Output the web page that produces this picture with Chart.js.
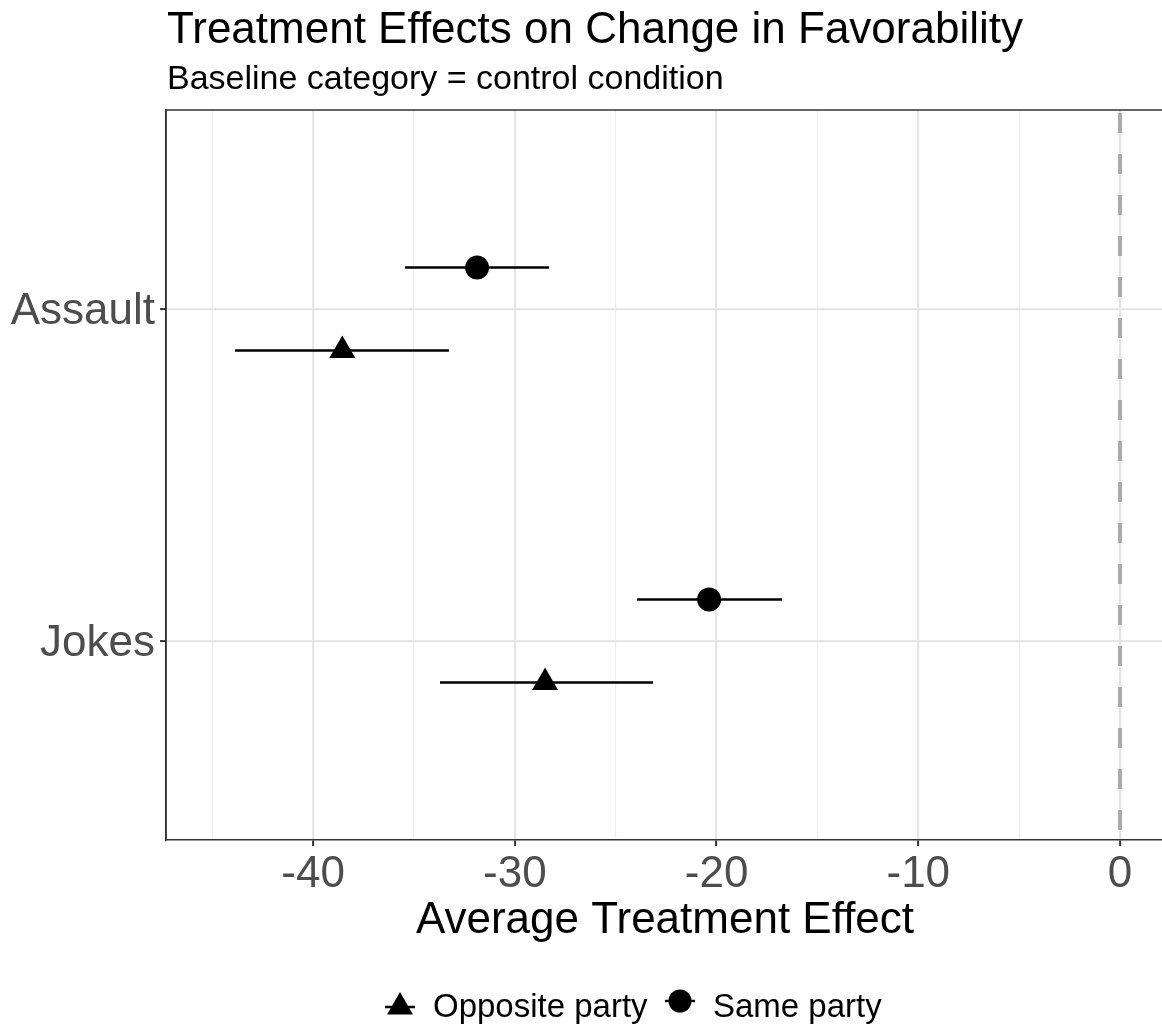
<!DOCTYPE html>
<html>
<head>
<meta charset="utf-8">
<script src="https://cdn.jsdelivr.net/npm/chart.js@4.4.0/dist/chart.umd.min.js"></script>
<style>
  html, body { margin: 0; padding: 0; background: #fff; overflow: hidden; }
  #wrap { width: 1162px; height: 1026px; overflow: hidden; }
</style>
</head>
<body>
<div id="wrap"><canvas id="chart" width="1177" height="1026"></canvas></div>
<script>
'use strict';

// Data.
const categories = ['Assault', 'Jokes'];
const categoryPos = [2, 1];
const seriesNames = ['Opposite party', 'Same party'];

const sameEst = [-31.87, -20.37];
const sameLow = [-35.44, -23.94];
const sameHigh = [-28.30, -16.75];

const oppEst = [-38.55, -28.50];
const oppLow = [-43.87, -33.71];
const oppHigh = [-33.26, -23.15];

const xTicks = [-45, -40, -35, -30, -25, -20, -15, -10, -5, 0];
const dodge = 0.125;

const FONT = '"Liberation Sans", Arial, Helvetica, sans-serif';

// Build the datasets.
let datasets = [];

datasets.push({
  type: 'scatter',
  label: 'Same party',
  data: categoryPos.map((p, i) => ({ x: sameEst[i], y: p + dodge })),
  pointStyle: 'circle',
  pointRadius: 12,
  backgroundColor: '#000',
  borderColor: '#000',
  borderWidth: 0,
  order: 1
});

datasets.push({
  type: 'scatter',
  label: 'Opposite party',
  data: categoryPos.map((p, i) => ({ x: oppEst[i], y: p - dodge })),
  pointStyle: 'triangle',
  pointRadius: 15,
  backgroundColor: '#000',
  borderColor: '#000',
  borderWidth: 0,
  order: 1
});

// Error bars, one small line per interval.
for (let i = 0; i < categoryPos.length; i++) {
  datasets.push({
    type: 'line',
    data: [{ x: sameLow[i], y: categoryPos[i] + dodge }, { x: sameHigh[i], y: categoryPos[i] + dodge }],
    borderColor: '#000',
    borderWidth: 2.5,
    pointRadius: 0,
    order: 2
  });
  datasets.push({
    type: 'line',
    data: [{ x: oppLow[i], y: categoryPos[i] - dodge }, { x: oppHigh[i], y: categoryPos[i] - dodge }],
    borderColor: '#000',
    borderWidth: 2.5,
    pointRadius: 0,
    order: 2
  });
}

// Dashed reference line at zero.
datasets.push({
  type: 'line',
  data: [{ x: 0, y: 2.6 }, { x: 0, y: 0.4 }],
  borderColor: '#aaaaaa',
  borderWidth: 4,
  borderDash: [20, 21],
  borderDashOffset: -3,
  pointRadius: 0,
  order: 3
});

// Titles, axis title, panel border and legend drawn on the canvas.
const decorations = {
  id: 'decorations',
  afterDraw(chart) {
    const ctx = chart.ctx;
    const area = chart.chartArea;
    ctx.save();

    // panel border
    ctx.strokeStyle = '#333333';
    ctx.lineWidth = 1.5;
    ctx.beginPath();
    ctx.moveTo(area.left, area.bottom);
    ctx.lineTo(area.left, area.top);
    ctx.lineTo(area.right + 2, area.top);
    ctx.stroke();

    ctx.fillStyle = '#000';
    ctx.textAlign = 'left';
    ctx.textBaseline = 'alphabetic';
    ctx.font = '44px ' + FONT;
    ctx.fillText('Treatment Effects on Change in Favorability', 167, 43);
    ctx.font = '34px ' + FONT;
    ctx.fillText('Baseline category = control condition', 167, 89);

    // x axis title
    ctx.font = '44px ' + FONT;
    ctx.textAlign = 'center';
    ctx.fillText('Average Treatment Effect', 665, 933);

    // legend
    const ly = 1001;
    ctx.font = '33px ' + FONT;
    ctx.textAlign = 'left';
    ctx.strokeStyle = '#000';
    ctx.lineWidth = 2.5;

    ctx.beginPath();
    ctx.moveTo(385, ly + 6);
    ctx.lineTo(415, ly + 6);
    ctx.stroke();
    ctx.beginPath();
    ctx.moveTo(400, ly - 9);
    ctx.lineTo(400 + 13, ly + 13.5);
    ctx.lineTo(400 - 13, ly + 13.5);
    ctx.closePath();
    ctx.fill();
    ctx.fillText(seriesNames[0], 433, 1017);

    ctx.beginPath();
    ctx.moveTo(665, ly);
    ctx.lineTo(695, ly);
    ctx.stroke();
    ctx.beginPath();
    ctx.arc(680, ly, 11.5, 0, Math.PI * 2);
    ctx.fill();
    ctx.fillText(seriesNames[1], 713, 1017);

    ctx.restore();
  }
};

const config = {
  data: { datasets: datasets },
  options: {
    responsive: false,
    animation: false,
    layout: { padding: { top: 110, left: 0, right: 0, bottom: 0 } },
    plugins: {
      legend: { display: false },
      tooltip: { enabled: false },
      title: { display: false }
    },
    scales: {
      x: {
        type: 'linear',
        min: -47.29,
        max: 2.08,
        afterBuildTicks: (scale) => { scale.ticks = xTicks.map(v => ({ value: v })); },
        afterFit: (scale) => { scale.height = 186; },
        ticks: {
          autoSkip: false,
          maxRotation: 0,
          padding: 2,
          color: '#4d4d4d',
          font: { family: FONT, size: 44 },
          callback: (v) => (v % 10 === 0 ? String(v) : '')
        },
        grid: {
          color: (c) => (c.tick && c.tick.value % 10 === 0 ? '#e6e6e6' : '#eeeeee'),
          lineWidth: (c) => (c.tick && c.tick.value % 10 === 0 ? 2.2 : 1.2),
          tickColor: (c) => (c.tick && c.tick.value % 10 === 0 ? '#333333' : 'rgba(0,0,0,0)'),
          tickWidth: 2,
          tickLength: 6
        },
        border: { display: true, color: '#333333', width: 1.5 }
      },
      y: {
        type: 'linear',
        min: 0.4,
        max: 2.6,
        afterBuildTicks: (scale) => { scale.ticks = categoryPos.map(v => ({ value: v })); },
        afterFit: (scale) => { scale.width = 166; },
        ticks: {
          autoSkip: false,
          padding: 5,
          labelOffset: 3,
          color: '#4d4d4d',
          font: { family: FONT, size: 44 },
          callback: (v) => {
            const idx = categoryPos.indexOf(v);
            return idx >= 0 ? categories[idx] : '';
          }
        },
        grid: {
          color: '#e6e6e6',
          lineWidth: 2.2,
          tickColor: '#333333',
          tickWidth: 2,
          tickLength: 6
        },
        border: { display: true, color: '#333333', width: 1.5 }
      }
    }
  },
  plugins: [decorations]
};

const chartResults = new Chart(document.getElementById('chart'), config);
</script>
</body>
</html>
